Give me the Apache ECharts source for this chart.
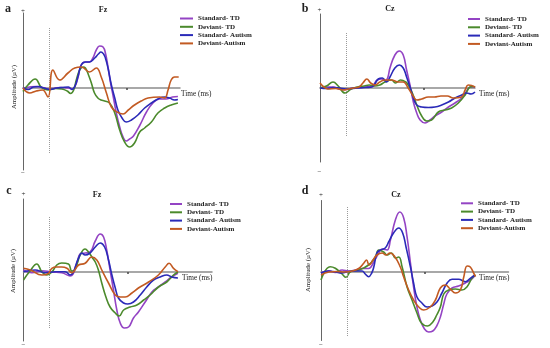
<!DOCTYPE html>
<html>
<head>
<meta charset="utf-8">
<script src="https://cdn.jsdelivr.net/npm/echarts@6/dist/echarts.min.js"></script>
<style>
html,body{margin:0;padding:0;background:#fff;}
#chart{width:550px;height:348px;}
</style>
</head>
<body>
<div id="chart"></div>
<script>
// ---------- DATA ----------
const seriesNames = ['Standard- TD', 'Deviant- TD', 'Standard- Autism', 'Deviant-Autism'];
const panelLetters = ['a', 'b', 'c', 'd'];
const panelSites = ['Fz', 'Cz', 'Fz', 'Cz'];
const xTickValues = [300];             // ms
const stimulusOnset = 0;               // ms (dotted line)
const stimulusExtent = [[6.0, -6.5], [5.5, -4.9], [5.5, -5.7], [6.5, -6.4]]; // µV (top, bottom)

// Panel a (Fz)  [time ms, amplitude µV]
const aStdTD = [[-100,0.0],[-75,0.1],[-50,0.15],[-25,0.05],[0,-0.1],[25,0.0],[50,0.05],[75,0.0],[90,-0.1],[100,0.15],[112,1.1],[124,2.3],[140,2.6],[156,2.6],[169,3.0],[182,3.8],[195,4.2],[208,4.1],[217,3.5],[227,2.1],[237,0.5],[246,-0.7],[259,-2.5],[272,-3.9],[285,-4.9],[297,-5.3],[310,-5.1],[325,-4.8],[350,-3.7],[375,-2.4],[400,-1.5],[425,-1.1],[450,-1.1],[475,-0.9],[496,-0.85]];
const aDevTD = [[-100,-0.35],[-81,0.3],[-53,0.9],[-29,0.05],[-4,-0.2],[25,-0.05],[50,-0.1],[70,-0.3],[83,-0.55],[95,-0.2],[105,0.8],[118,1.8],[131,2.1],[140,2.0],[152,1.3],[163,0.5],[175,-0.5],[188,-1.0],[200,-1.2],[214,-1.3],[233,-1.5],[253,-2.5],[272,-4.2],[291,-5.4],[310,-5.9],[329,-5.5],[349,-4.4],[368,-4.0],[394,-3.4],[419,-2.5],[445,-2.0],[470,-1.7],[496,-1.5]];
const aStdAut = [[-100,0.0],[-80,-0.15],[-60,0.1],[-40,0.15],[-20,0.0],[5,-0.15],[30,0.0],[50,0.05],[75,0.1],[88,-0.15],[100,0.2],[112,1.2],[124,2.3],[140,2.6],[156,2.6],[176,3.0],[190,3.4],[200,3.6],[210,3.4],[217,3.0],[227,2.0],[240,0.3],[253,-1.0],[265,-2.2],[281,-3.0],[297,-3.4],[317,-3.2],[342,-2.7],[368,-2.0],[394,-1.5],[419,-1.1],[445,-0.9],[464,-1.0],[483,-1.2],[496,-1.15]];
const aDevAut = [[-100,0.0],[-74,-0.5],[-49,-0.3],[-25,-0.2],[-4,-0.9],[15,1.8],[41,0.8],[73,1.5],[99,2.0],[124,2.1],[156,1.6],[182,2.0],[201,1.1],[221,-0.5],[240,-1.9],[262,-2.4],[285,-2.6],[305,-2.2],[329,-1.7],[355,-1.3],[381,-1.0],[426,-0.9],[445,-1.0],[458,-0.2],[470,0.8],[483,1.1],[499,1.1]];

// Panel b (Cz)
const bStdTD = [[-100,0.0],[-75,0.1],[-50,0.1],[-25,-0.1],[0,-0.15],[25,0.0],[50,0.05],[75,0.1],[100,0.2],[120,0.8],[137,0.9],[150,0.7],[160,1.0],[169,2.0],[188,3.3],[205,3.7],[220,3.3],[233,1.8],[246,0.3],[259,-1.4],[272,-2.5],[285,-3.2],[304,-3.5],[323,-3.2],[342,-2.8],[368,-2.4],[394,-1.9],[419,-1.5],[445,-1.0],[464,-0.3],[477,0.1],[490,0.1],[496,0.05]];
const bDevTD = [[-100,0.0],[-75,0.2],[-50,0.6],[-30,0.2],[-4,-0.5],[20,-0.1],[44,0.1],[70,0.2],[89,0.3],[110,0.2],[130,0.3],[150,0.6],[175,0.8],[190,0.5],[210,0.8],[230,0.6],[239,0.3],[252,-0.3],[272,-1.7],[291,-2.8],[310,-3.3],[329,-3.2],[355,-2.4],[381,-2.2],[406,-2.0],[432,-1.5],[458,-0.7],[477,0.1],[490,0.15],[496,0.1]];
const bStdAut = [[-100,0.0],[-75,-0.05],[-50,0.05],[-25,0.0],[0,-0.1],[25,-0.05],[50,0.0],[75,0.05],[100,0.1],[124,0.9],[140,1.0],[156,0.6],[169,1.1],[188,2.0],[205,2.3],[220,2.0],[233,1.1],[246,0.1],[259,-1.0],[272,-1.7],[291,-1.9],[317,-1.95],[342,-1.9],[368,-1.7],[394,-1.4],[419,-1.0],[445,-0.7],[464,-0.5],[481,-0.6],[496,-0.4]];
const bDevAut = [[-100,0.5],[-85,0.1],[-70,-0.1],[-40,-0.05],[-10,-0.2],[10,-0.1],[30,0.0],[50,0.1],[65,0.5],[80,0.9],[95,0.5],[111,0.3],[130,0.6],[149,0.8],[175,0.8],[201,0.6],[220,0.6],[239,0.0],[258,-0.8],[272,-1.2],[291,-1.1],[316,-0.9],[340,-0.9],[365,-0.8],[390,-0.8],[412,-1.0],[444,-0.9],[458,-0.2],[470,0.3],[483,0.25],[496,0.1]];

// Panel c (Fz)
const cStdTD = [[-100,0.2],[-68,-0.07],[-29,0.13],[9,0.0],[47,-0.07],[79,-0.4],[105,0.87],[118,1.8],[137,1.9],[156,2.0],[176,3.1],[195,3.8],[208,3.5],[220,2.2],[233,0.2],[246,-1.8],[259,-3.8],[272,-5.1],[288,-5.6],[304,-5.5],[323,-4.6],[342,-4.0],[368,-3.0],[394,-2.0],[419,-1.5],[445,-1.0],[470,-0.5],[494,-0.13]];
const cDevTD = [[-100,-0.8],[-75,0.1],[-49,0.8],[-29,0.0],[-10,-0.3],[9,0.0],[28,0.7],[47,0.9],[73,0.8],[86,0.1],[99,0.3],[118,1.7],[137,2.3],[150,2.0],[163,1.5],[176,1.0],[188,0.2],[201,-1.1],[217,-2.5],[233,-3.5],[253,-4.1],[268,-4.4],[285,-3.8],[310,-3.5],[336,-3.3],[362,-2.8],[387,-2.3],[419,-1.5],[451,-1.0],[477,-0.3],[494,0.0]];
const cStdAut = [[-100,0.03],[-55,0.2],[-17,-0.07],[22,0.03],[60,0.03],[79,-0.3],[112,1.4],[124,1.9],[137,1.7],[156,1.9],[176,2.5],[195,2.9],[212,2.5],[227,1.2],[240,-0.3],[253,-1.6],[265,-2.6],[285,-3.1],[301,-3.2],[323,-3.0],[349,-2.3],[374,-1.5],[400,-0.8],[426,-0.5],[451,-0.3],[470,-0.5],[494,-0.6]];
const cDevAut = [[-100,0.37],[-74,0.2],[-29,-0.3],[-4,-0.13],[9,0.37],[28,0.5],[47,0.5],[67,0.37],[86,-0.07],[112,0.7],[137,0.87],[163,1.5],[182,1.2],[201,0.2],[227,-1.1],[253,-2.3],[272,-2.5],[291,-2.5],[317,-2.1],[342,-1.6],[381,-1.0],[419,-0.3],[445,0.5],[460,0.87],[477,0.37],[494,0.03]];

// Panel d (Cz)
const dStdTD = [[-100,-0.1],[-70,0.13],[-45,-0.05],[-19,0.2],[6,0.1],[32,0.2],[58,0.35],[83,0.35],[103,1.0],[122,1.9],[135,2.3],[154,2.2],[167,3.2],[186,5.2],[203,6.0],[218,5.4],[231,3.5],[244,0.9],[256,-1.5],[269,-3.5],[282,-4.8],[298,-5.7],[314,-6.0],[330,-5.9],[345,-5.4],[359,-4.5],[372,-3.2],[384,-2.2],[404,-1.6],[429,-1.4],[455,-1.1],[475,-0.8],[493,-0.35]];
const dDevTD = [[-100,-0.8],[-65,0.53],[-45,0.37],[-19,-0.2],[-4,-0.53],[13,0.03],[45,0.2],[83,0.7],[109,1.5],[122,2.2],[141,2.0],[154,1.7],[171,1.9],[186,1.4],[199,1.5],[212,0.5],[231,-1.5],[250,-2.8],[269,-4.1],[286,-5.1],[310,-5.4],[330,-5.0],[345,-4.3],[359,-3.5],[372,-2.2],[391,-1.8],[417,-1.7],[442,-1.8],[461,-1.5],[481,-0.6],[494,-0.3]];
const dStdAut = [[-100,-0.1],[-70,0.1],[-45,0.0],[-20,-0.1],[6,0.05],[30,0.1],[58,0.1],[70,-0.2],[83,-0.47],[95,-0.1],[103,0.5],[115,1.9],[128,2.2],[147,2.4],[160,3.0],[179,3.9],[199,4.4],[214,3.9],[227,2.5],[244,0.5],[256,-1.1],[269,-2.5],[288,-3.1],[308,-3.5],[327,-3.4],[346,-3.0],[365,-2.1],[385,-1.1],[404,-0.73],[429,-0.73],[455,-0.97],[474,-0.63],[492,-0.3]];
const dDevAut = [[-100,-0.3],[-70,0.0],[-40,0.05],[-10,0.0],[20,0.1],[45,0.35],[65,0.9],[75,1.2],[85,0.7],[100,1.2],[115,1.7],[135,1.9],[150,1.7],[165,1.9],[182,1.6],[205,0.5],[218,-0.5],[237,-1.8],[256,-2.8],[276,-3.5],[295,-3.8],[320,-3.5],[340,-2.8],[359,-1.6],[378,-1.3],[397,-1.7],[417,-2.1],[436,-1.8],[449,-0.5],[462,0.6],[474,0.5],[487,-0.1],[494,-0.45]];

const panelData = [
  [aStdTD, aDevTD, aStdAut, aDevAut],
  [bStdTD, bDevTD, bStdAut, bDevAut],
  [cStdTD, cDevTD, cStdAut, cDevAut],
  [dStdTD, dDevTD, dStdAut, dDevAut]
];

// ---------- LAYOUT / STYLE ----------
const colors = ['#9444c4', '#4b8a2c', '#2a2ab8', '#c25a22'];
const layout = [
  {grid:{left:23, top:13, width:157, height:157}, xMax:504, yMax:7.5, yMin:-8.2,
   legend:{left:180, top:15, w:13}, letter:[8,9], site:[103,10], plus:[23,11], minus:[23,173], time:[181,94], amp:[14,87]},
  {grid:{left:320, top:14, width:155, height:148}, xMax:496, yMax:7.4, yMin:-7.4,
   legend:{left:468, top:15.5, w:12}, letter:[305,9], site:[390,9], plus:[319.5,10], minus:[319.5,172], time:[479,94], amp:null},
  {grid:{left:23.5, top:199, width:188.5, height:142}, xMax:625, yMax:7.3, yMin:-6.9,
   legend:{left:170, top:200.5, w:12}, letter:[9,191], site:[97,195], plus:[23.5,194.5], minus:[23.5,345], time:[182,278], amp:[13.5,271]},
  {grid:{left:321, top:200.5, width:187.5, height:140}, xMax:621, yMax:7.15, yMin:-6.85,
   legend:{left:461, top:199.8, w:12}, letter:[305,191], site:[396,195], plus:[321,195.5], minus:[321,345], time:[479,278], amp:[308,270]}
];

const serif = '"Liberation Serif", "Times New Roman", serif';
const grids = [], xAxes = [], yAxes = [], series = [], legends = [], graphics = [];

layout.forEach((L, i) => {
  grids.push(Object.assign({containLabel:false}, L.grid));
  xAxes.push({
    type:'value', gridIndex:i, min:-100, max:L.xMax,
    axisLine:{show:true, onZero:true, lineStyle:{color:'#8c8c8c', width:1.5}},
    axisTick:{show:true, customValues:xTickValues, length:2, inside:false, lineStyle:{color:'#444', width:1.5}},
    axisLabel:{show:false}, splitLine:{show:false}
  });
  yAxes.push({
    type:'value', gridIndex:i, min:L.yMin, max:L.yMax,
    axisLine:{show:true, onZero:false, lineStyle:{color:'#666', width:1}},
    axisTick:{show:false}, axisLabel:{show:false}, splitLine:{show:false}
  });
  panelData[i].forEach((d, j) => {
    const s = {
      name: seriesNames[j], type:'line', xAxisIndex:i, yAxisIndex:i,
      data: d, smooth: 0.45, showSymbol:false, symbol:'none',
      lineStyle:{color:colors[j], width:1.6}, itemStyle:{color:colors[j]},
      z: 3 + j
    };
    if (j === 0) {
      s.markLine = {
        silent:true, symbol:['none','none'], label:{show:false},
        lineStyle:{type:'dotted', color:'#9a9a9a', width:1},
        data:[[{coord:[stimulusOnset, stimulusExtent[i][0]]},{coord:[stimulusOnset, stimulusExtent[i][1]]}]]
      };
    }
    series.push(s);
  });
  legends.push({
    data: seriesNames, orient:'vertical', left:L.legend.left, top:L.legend.top,
    icon:'rect', itemWidth:L.legend.w, itemHeight:2, itemGap:1.3, padding:0,
    selectedMode:false,
    textStyle:{fontFamily:serif, fontWeight:'bold', fontSize:7, lineHeight:7, color:'#222'}
  });
  const txt = (x, y, text, size, weight, align, extra) => Object.assign({
    type:'text', x:x, y:y,
    style:{text:text, font: weight + ' ' + size + 'px ' + serif, fill:'#222', textAlign:align, textVerticalAlign:'middle'}
  }, extra || {});
  graphics.push(txt(L.letter[0], L.letter[1], panelLetters[i], 12, 'bold', 'center'));
  graphics.push(txt(L.site[0], L.site[1], panelSites[i], 8, 'bold', 'center'));
  graphics.push(txt(L.plus[0], L.plus[1], '+', 7, 'normal', 'center'));
  graphics.push(txt(L.minus[0], L.minus[1], '\u2212', 7, 'normal', 'center'));
  graphics.push(txt(L.time[0], L.time[1], 'Time (ms)', 7.3, 'normal', 'left'));
  if (L.amp) graphics.push(txt(L.amp[0], L.amp[1], 'Amplitude (\u00b5V)', 6.8, 'normal', 'center', {rotation: Math.PI/2}));
});

const chart = echarts.init(document.getElementById('chart'), null, {renderer:'canvas'});
chart.setOption({
  backgroundColor:'#ffffff',
  animation:false,
  grid: grids, xAxis: xAxes, yAxis: yAxes, series: series,
  legend: legends, graphic: graphics
});
</script>
</body>
</html>
